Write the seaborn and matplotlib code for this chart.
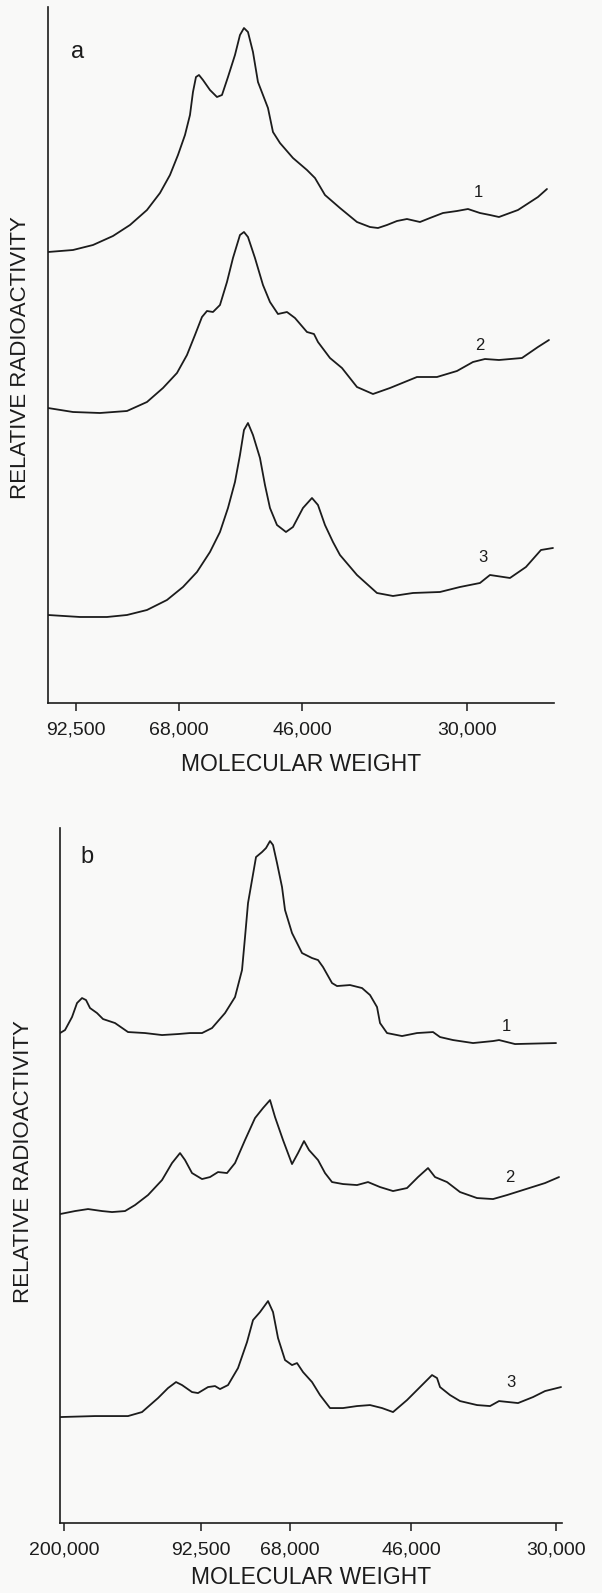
import numpy as np
import pandas as pd
import matplotlib.pyplot as plt
import seaborn as sns

# ---- panel a: migration distance vs relative radioactivity
a1_x = [0, 25, 45, 65, 82, 99, 112, 122, 130, 137, 142, 145, 148, 151, 155, 162, 169, 174, 180, 187,
        192, 196, 200, 205, 210, 215, 220, 225, 232, 245, 259, 267, 277, 292, 309, 322, 330, 339, 349,
        359, 372, 382, 395, 409, 420, 432, 442, 451, 470, 490, 499]
a1_y = [451, 453, 458, 467, 478, 493, 510, 528, 548, 568, 588, 611, 626, 628, 623, 613, 606, 608, 626, 648,
        668, 675, 671, 651, 621, 608, 595, 571, 560, 545, 533, 525, 508, 495, 481, 476, 475, 478, 482,
        484, 481, 485, 490, 492, 494, 490, 488, 486, 493, 506, 514]

a2_x = [0, 25, 52, 79, 99, 115, 129, 139, 147, 154, 159, 165, 172, 179, 185, 192, 196, 200, 207, 215,
        222, 230, 239, 247, 259, 266, 270, 282, 294, 309, 325, 342, 369, 389, 409, 425, 437, 451, 474,
        490, 501]
a2_y = [295, 291, 290, 292, 301, 315, 330, 348, 368, 386, 392, 391, 398, 421, 445, 468, 471, 466, 445, 418,
        401, 389, 391, 385, 371, 369, 361, 345, 335, 316, 309, 315, 326, 326, 332, 341, 344, 343, 345,
        356, 363]

a3_x = [0, 32, 59, 79, 99, 119, 135, 149, 162, 172, 180, 187, 192, 196, 200, 205, 212, 217, 222, 229,
        238, 245, 255, 264, 270, 277, 285, 292, 309, 329, 345, 365, 392, 412, 432, 442, 462, 478, 493, 505]
a3_y = [88, 86, 86, 88, 93, 103, 116, 131, 151, 171, 195, 221, 248, 273, 280, 268, 245, 218, 195, 178,
        171, 176, 195, 205, 198, 178, 161, 148, 128, 110, 107, 110, 111, 116, 120, 128, 125, 136, 153, 155]

a_tick_pos = [28, 131, 254, 419]
a_tick_lab = ['92,500', '68,000', '46,000', '30,000']
a_num_pos = [(430, 511), (432, 358), (435, 145)]

# ---- panel b
b1_x = [0, 5, 12, 17, 22, 26, 30, 37, 43, 55, 68, 85, 102, 118, 130, 142, 152, 165, 175, 182, 185, 188,
        192, 196, 202, 206, 210, 213, 217, 222, 225, 232, 242, 252, 258, 263, 272, 277, 290, 302, 310,
        317, 320, 327, 342, 357, 373, 380, 393, 413, 433, 439, 455, 496]
b1_y = [490, 493, 506, 520, 525, 523, 515, 510, 504, 500, 491, 490, 488, 489, 490, 490, 495, 510, 526,
        553, 586, 620, 643, 666, 671, 675, 682, 678, 660, 636, 613, 590, 570, 565, 563, 556, 540, 537,
        538, 535, 528, 516, 500, 490, 487, 490, 491, 486, 483, 480, 482, 483, 479, 480]

b2_x = [0, 15, 28, 42, 52, 65, 75, 88, 102, 112, 120, 125, 132, 142, 150, 158, 167, 175, 185, 195, 203,
        210, 215, 223, 232, 238, 244, 249, 258, 265, 272, 283, 297, 308, 320, 333, 347, 358, 368, 375,
        387, 400, 417, 433, 447, 466, 485, 499]
b2_y = [309, 312, 314, 312, 311, 312, 318, 328, 343, 360, 370, 363, 350, 344, 346, 351, 350, 360, 383,
        405, 415, 423, 406, 383, 359, 370, 382, 373, 363, 350, 341, 339, 338, 341, 336, 332, 335, 346,
        355, 346, 341, 331, 325, 324, 328, 334, 340, 346]

b3_x = [0, 35, 68, 82, 98, 108, 116, 122, 132, 138, 148, 155, 160, 168, 178, 187, 193, 200, 208, 213,
        218, 225, 232, 237, 243, 252, 260, 270, 283, 297, 310, 322, 333, 347, 360, 372, 377, 380, 390,
        400, 417, 430, 439, 458, 473, 485, 501]
b3_y = [106, 107, 107, 111, 125, 135, 141, 138, 131, 130, 136, 137, 134, 138, 155, 181, 203, 211, 222,
        211, 185, 163, 158, 160, 151, 141, 128, 115, 115, 117, 118, 115, 111, 123, 136, 148, 145, 136,
        128, 122, 118, 117, 122, 120, 126, 132, 136]

b_tick_pos = [4, 141, 230, 351, 496]
b_tick_lab = ['200,000', '92,500', '68,000', '46,000', '30,000']
b_num_pos = [(446, 497), (450, 346), (451, 141)]

sns.set_style('white')
plt.rcParams['font.family'] = ['Liberation Sans', 'DejaVu Sans']
bg = '#f9f9f8'
ink = '#1c1c1c'

fig = plt.figure(figsize=(6.02, 15.93), dpi=100, facecolor=bg)
ax_a = fig.add_axes([0.0797, 0.5587, 0.8405, 0.4369])
ax_b = fig.add_axes([0.0997, 0.0439, 0.8339, 0.4363])


def draw_panel(ax, traces, xmax, ymax, tick_pos, tick_lab, num_pos, letter, letter_pos,
               ylab_x, ylab_y, xlab_pad):
    ax.set_facecolor(bg)
    for i, (xs, ys) in enumerate(traces):
        df = pd.DataFrame({'dist': xs, 'act': ys})
        sns.lineplot(data=df, x='dist', y='act', sort=False, estimator=None,
                     color=ink, linewidth=1.3, ax=ax)
        ax.text(num_pos[i][0], num_pos[i][1], str(i + 1), fontsize=12,
                ha='center', va='center', color=ink)
    ax.set_xlim(0, xmax)
    ax.set_ylim(0, ymax)
    for s in ['top', 'right']:
        ax.spines[s].set_visible(False)
    for s in ['left', 'bottom']:
        ax.spines[s].set_color(ink)
        ax.spines[s].set_linewidth(1.2)
    ax.set_yticks([])
    ax.set_xticks(tick_pos)
    ax.set_xticklabels(tick_lab)
    ax.tick_params(axis='x', direction='out', length=6, width=1.1, color=ink,
                   pad=7, labelsize=14, labelcolor=ink, bottom=True)
    ax.set_xlabel('MOLECULAR WEIGHT', fontsize=16.5, color=ink, labelpad=xlab_pad)
    ax.set_ylabel('RELATIVE RADIOACTIVITY', fontsize=16, color=ink)
    ax.yaxis.set_label_coords(ylab_x, ylab_y)
    ax.text(letter_pos[0], letter_pos[1], letter, fontsize=17,
            ha='center', va='center', color=ink)


draw_panel(ax_a, [(a1_x, a1_y), (a2_x, a2_y), (a3_x, a3_y)], 506, 696,
           a_tick_pos, a_tick_lab, a_num_pos, 'a', (30, 651), -0.034, 0.497, 11)
draw_panel(ax_b, [(b1_x, b1_y), (b2_x, b2_y), (b3_x, b3_y)], 502, 695,
           b_tick_pos, b_tick_lab, b_num_pos, 'b', (27, 666), -0.052, 0.52, 6)

fig.savefig('out.png', dpi=100, facecolor=bg)
